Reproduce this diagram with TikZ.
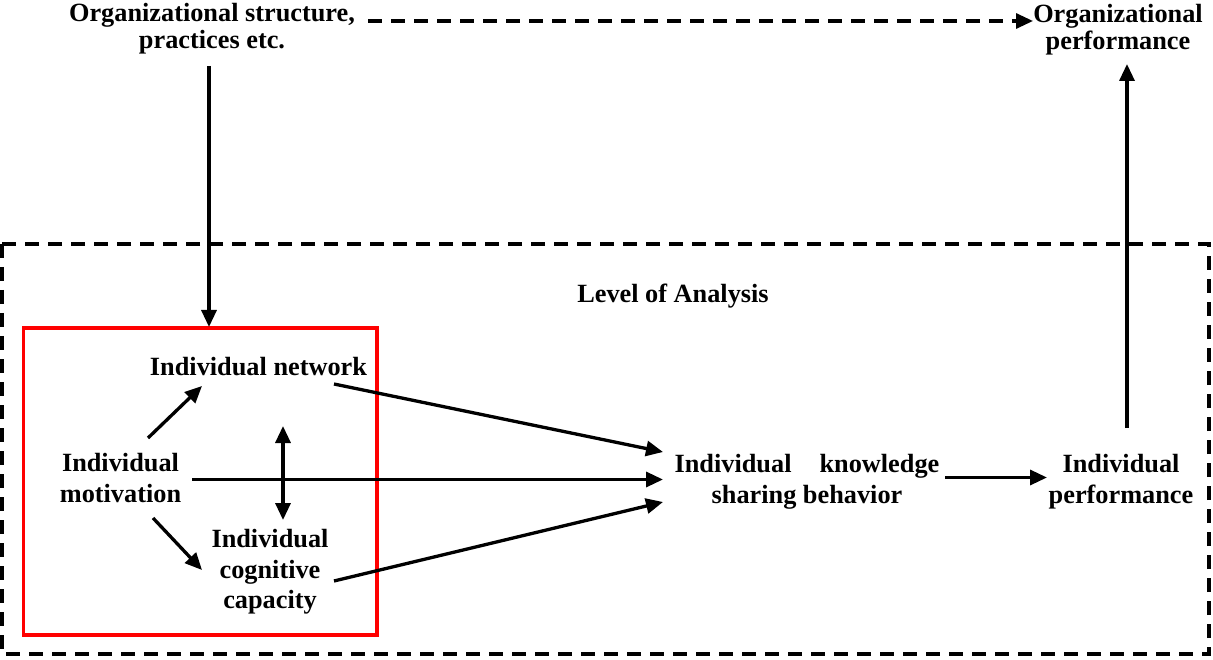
\documentclass[tikz,border=0pt]{standalone}
\usepackage{fontspec}
\setmainfont{Liberation Serif}
\usetikzlibrary{arrows.meta}
\begin{document}
\begin{tikzpicture}[x=1pt,y=-1pt,
  lbl/.style={font=\bfseries\fontsize{26.3}{30.5}\selectfont, align=center, inner sep=0pt},
  toplbl/.style={font=\bfseries\fontsize{26.3}{27}\selectfont, align=center, inner sep=0pt},
  tip/.style={-{Triangle[length=17pt,width=15pt]}},
  conn/.style={line width=3.3pt, tip},
  dconn/.style={line width=3.3pt, {Triangle[length=17pt,width=15pt]}-{Triangle[length=17pt,width=15pt]}},
  dashline/.style={line width=3.2pt, dash pattern=on 14pt off 9pt}]
\useasboundingbox (0,0) rectangle (1213,660);

% frames
\draw[dashline] (2,244) rectangle (1209,654);
\draw[red, line width=3.5pt] (23.5,328) rectangle (377,635);

% labels
\node[toplbl, anchor=north] (org) at (212,3.5) {Organizational structure,\\practices etc.};
\node[toplbl, anchor=north] (orgperf) at (1118,4) {Organizational\\performance};
\node[lbl, anchor=base] (level) at (673,303) {Level of Analysis};
\node[lbl, anchor=base] (net) at (258.5,375) {Individual network};
\node[lbl, anchor=north] (mot) at (120.5,453.4) {Individual\\motivation};
\node[lbl, anchor=north] (cog) at (270,529.4) {Individual\\cognitive\\capacity};
\node[lbl, anchor=north] (share) at (807,454.4) {Individual\hspace{28pt}knowledge\\sharing behavior};
\node[lbl, anchor=north] (perf) at (1121,454.4) {Individual\\performance};

% connector end points
\coordinate (orgout) at (209,66);
\coordinate (boxin) at (209,327);
\coordinate (dashout) at (368,21);
\coordinate (orgperfin) at (1033,21);
\coordinate (perfout) at (1127,428);
\coordinate (orgperfbot) at (1127,64);
\coordinate (motup) at (148,438);
\coordinate (netin) at (202,386);
\coordinate (motdown) at (153,518);
\coordinate (cogin) at (202,570);
\coordinate (dtop) at (283,426);
\coordinate (dbot) at (283,520);
\coordinate (motright) at (192,479.5);
\coordinate (sharein2) at (663,479.5);
\coordinate (netout) at (334,384);
\coordinate (sharein1) at (663,452);
\coordinate (cogout) at (334,581);
\coordinate (sharein3) at (663,502);
\coordinate (shareout) at (945,477.5);
\coordinate (perfin) at (1047,477.5);

% connectors
\draw[conn] (orgout) -- (boxin);
\draw[dashline, tip] (dashout) -- (orgperfin);
\draw[conn] (perfout) -- (orgperfbot);
\draw[conn] (motup) -- (netin);
\draw[conn] (motdown) -- (cogin);
\draw[dconn] (dtop) -- (dbot);
\draw[conn] (motright) -- (sharein2);
\draw[conn] (netout) -- (sharein1);
\draw[conn] (cogout) -- (sharein3);
\draw[conn] (shareout) -- (perfin);
\end{tikzpicture}
\end{document}
